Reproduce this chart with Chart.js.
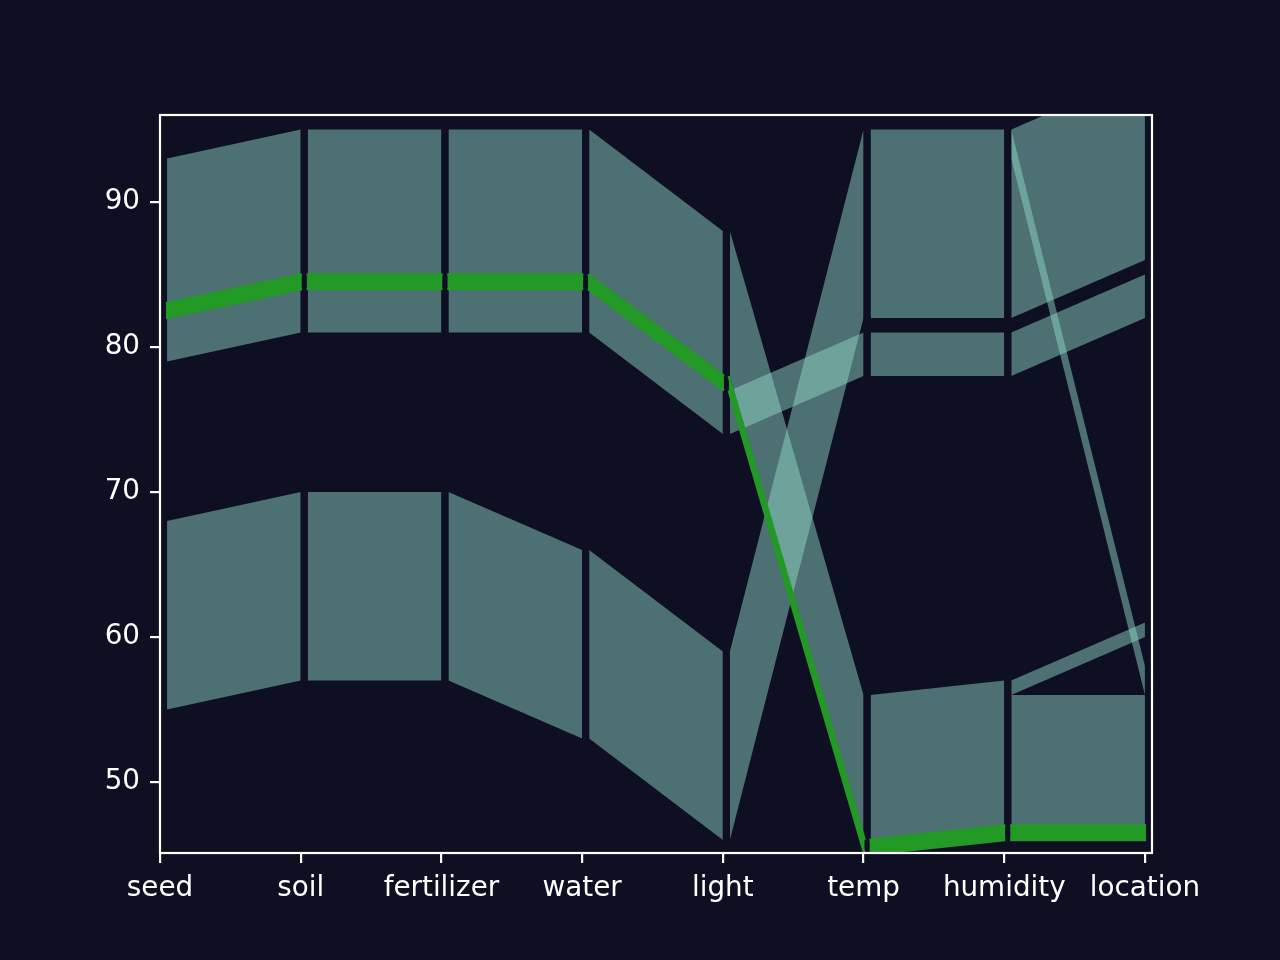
<!DOCTYPE html>
<html>
<head>
<meta charset="utf-8">
<script src="https://cdn.jsdelivr.net/npm/chart.js@4/dist/chart.umd.min.js"></script>
<style>
  html, body { margin: 0; padding: 0; background: #0e0f22; }
  canvas { display: block; }
</style>
</head>
<body>
<canvas id="c" width="1280" height="960"></canvas>
<script>
// ---- data ----
const categories = ['seed', 'soil', 'fertilizer', 'water', 'light', 'temp', 'humidity', 'location'];
const yTickValues = [50, 60, 70, 80, 90];

// teal ribbons: segment index (left axis), value range at left axis, value range at right axis
const ribbonSegment  = [0,  0,  1,  1,  2,  2,  3,  3,  4,  4,  4,  5,  5,  5,  6,  6,  6,  6,  6];
const ribbonFromLow  = [79, 55, 81, 57, 81, 57, 81, 53, 78, 46, 74, 82, 78, 46, 82, 78, 93, 56, 47];
const ribbonFromHigh = [93, 68, 95, 70, 95, 70, 95, 66, 88, 59, 77, 95, 81, 56, 95, 81, 95, 57, 56];
const ribbonToLow    = [81, 57, 81, 57, 81, 53, 74, 46, 46, 82, 78, 82, 78, 47, 86, 82, 56, 60, 47];
const ribbonToHigh   = [95, 70, 95, 70, 95, 66, 88, 59, 56, 95, 81, 95, 81, 57, 99, 85, 58, 61, 56];

// highlighted (green) path
const highlightSegment  = [0,  1,  2,  3,  4,  5,  6];
const highlightFromLow  = [82, 84, 84, 84, 77, 45, 46];
const highlightFromHigh = [83, 85, 85, 85, 78, 46, 47];
const highlightToLow    = [84, 84, 84, 77, 45, 46, 46];
const highlightToHigh   = [85, 85, 85, 78, 46, 47, 47];

// ---- styling ----
const BG = '#0e0f22';
const RIBBON_COLOR = 'rgba(147, 219, 203, 0.48)';
const HIGHLIGHT_COLOR = 'rgb(35, 153, 38)';
const GAP = 0.05;
const FONT = { family: "'DejaVu Sans', sans-serif", size: 27.8 };

const datasets = [];
function addBand(seg, fl, fh, tl, th, color, order, x0off, x1off, edge) {
  const x0 = seg + x0off, x1 = seg + 1 + x1off;
  const upperIndex = datasets.length;
  const stroke = edge > 0 ? color : 'rgba(0,0,0,0)';
  datasets.push({
    data: [{ x: x0, y: fh }, { x: x1, y: th }],
    borderColor: stroke, borderWidth: edge, pointRadius: 0, fill: false, order: order
  });
  datasets.push({
    data: [{ x: x0, y: fl }, { x: x1, y: tl }],
    borderColor: stroke, borderWidth: edge, pointRadius: 0,
    fill: upperIndex, backgroundColor: color, order: order
  });
}
for (let i = 0; i < ribbonSegment.length; i++) {
  addBand(ribbonSegment[i], ribbonFromLow[i], ribbonFromHigh[i], ribbonToLow[i], ribbonToHigh[i],
          RIBBON_COLOR, 2, GAP, 0, 0);
}
for (let i = 0; i < highlightSegment.length; i++) {
  addBand(highlightSegment[i], highlightFromLow[i], highlightFromHigh[i], highlightToLow[i], highlightToHigh[i],
          HIGHLIGHT_COLOR, 1, GAP - 0.008, 0.008, 2.5);
}

const bgPlugin = {
  id: 'bg',
  beforeDraw(chart) {
    const ctx = chart.ctx;
    ctx.save();
    ctx.fillStyle = BG;
    ctx.fillRect(0, 0, chart.width, chart.height);
    ctx.restore();
  }
};
const framePlugin = {
  id: 'frame',
  afterDraw(chart) {
    const a = chart.chartArea, ctx = chart.ctx;
    ctx.save();
    ctx.strokeStyle = '#ffffff';
    ctx.lineWidth = 2.2;
    ctx.strokeRect(a.left, a.top, a.right - a.left, a.bottom - a.top);
    ctx.restore();
  }
};

new Chart(document.getElementById('c'), {
  type: 'line',
  data: { datasets: datasets },
  options: {
    responsive: false,
    devicePixelRatio: 1,
    animation: false,
    events: [],
    layout: { padding: { top: 115, right: 128, left: 0, bottom: 0 } },
    plugins: { legend: { display: false }, tooltip: { enabled: false } },
    scales: {
      x: {
        type: 'linear',
        min: 0,
        max: 7.05,
        afterBuildTicks(s) { s.ticks = categories.map((c, i) => ({ value: i })); },
        afterFit(s) { s.height = 107; },
        ticks: {
          color: '#ffffff', font: FONT, padding: 9, maxRotation: 0, autoSkip: false,
          callback: (v) => categories[v]
        },
        grid: { drawOnChartArea: false, drawTicks: true, tickLength: 10, color: '#ffffff', lineWidth: 2.2 },
        border: { display: false }
      },
      y: {
        type: 'linear',
        min: 45.1,
        max: 96,
        afterBuildTicks(s) { s.ticks = yTickValues.map(v => ({ value: v })); },
        afterFit(s) { s.width = 160; },
        ticks: { color: '#ffffff', font: FONT, padding: 10, callback: (v) => String(v) },
        grid: { drawOnChartArea: false, drawTicks: true, tickLength: 10, color: '#ffffff', lineWidth: 2.2 },
        border: { display: false }
      }
    }
  },
  plugins: [bgPlugin, framePlugin]
});
</script>
</body>
</html>
